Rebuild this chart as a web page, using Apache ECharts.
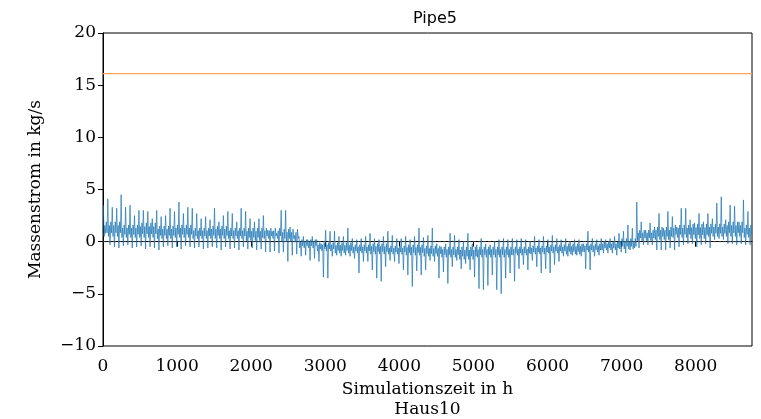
<!DOCTYPE html>
<html>
<head>
<meta charset="utf-8">
<script src="https://cdn.jsdelivr.net/npm/echarts@6/dist/echarts.min.js"></script>
<style>
    html, body { margin: 0; padding: 0; background: #fff; }
    #chart { width: 761px; height: 419px; }
</style>
</head>
<body>
<div id="chart"></div>
<script>
'use strict';

// Spitzen pro 60-h-Abschnitt
var binHours = 60;
var peakHigh = [
    3.5, 4.1, 3.3, 3.2, 4.5, 3.3, 3.5, 2.5, 3.0, 3.0, 2.9, 2.2, 3.0, 2.4, 2.5, 3.2, 2.9, 3.8, 2.7, 3.3, 3.2, 2.7, 2.2, 2.4, 2.1,
    3.2, 1.9, 2.5, 2.9, 2.7, 1.9, 3.2, 2.9, 2.2, 1.9, 2.2, 2.5, 1.1, 1.0, 0.8, 3.0, 3.0, 1.4, 0.6, 0.5, 0.5, 0.2, 0.5, 0.2, -0.2,
    1.1, 1.0, 1.0, 0.5, 0.5, 1.3, 0.3, 0.2, 0.3, 0.5, 0.8, 0.3, 0.2, 0.5, 1.0, 0.6, 0.3, 0.3, 0.5, 0.2, 0.5, 1.3, 0.4, 0.6,
    1.3, -0.2, -0.5, -0.2, 0.8, 0.6, 0.2, 0.0, 0.8, -0.2, -0.3, 0.3, -0.2, -0.3, 0.0, 0.2, 0.3, 0.2, 0.3, 0.2, 0.3, 0.2, 0.0, 0.5, 0.2,
    0.5, 0.2, 0.6, 0.3, 0.2, 0.3, 0.0, 0.2, 0.2, -0.2, 1.0, 0.3, 0.2, 0.3, 0.2, 0.3, 0.5, 0.8, 1.0, 1.6, 1.3, 3.8, 1.9, 1.1,
    1.8, 1.4, 2.7, 1.3, 2.9, 2.4, 1.4, 3.2, 3.2, 2.1, 1.8, 2.7, 1.9, 2.7, 2.2, 3.7, 4.3, 2.1, 3.5, 3.4, 1.9, 4.0, 2.9
];
var peakLow = [
    0.8, -0.3, -0.5, -0.6, -0.4, -0.3, -0.6, -0.5, -0.4, -0.7, -0.5, -0.6, -0.8, -0.5, -0.4, -0.6, -0.5, -0.7, -0.4, -0.5, -0.6, -0.5, -0.7, -0.6, -0.5,
    -0.6, -0.8, -0.5, -0.7, -0.6, -0.8, -0.5, -0.7, -0.6, -0.8, -0.7, -1.0, -1.0, -0.9, -1.1, -1.0, -1.9, -1.3, -1.2, -1.4, -1.3, -1.8, -1.6, -1.9, -3.4,
    -3.5, -1.4, -1.3, -1.4, -1.3, -1.4, -1.6, -3.0, -1.9, -1.9, -2.7, -3.5, -3.8, -2.4, -1.8, -1.9, -2.1, -2.7, -3.2, -4.3, -2.8, -3.2, -2.7, -1.8,
    -1.9, -3.5, -2.9, -4.0, -2.4, -1.8, -2.6, -2.1, -2.7, -3.4, -4.5, -4.6, -4.2, -3.2, -4.6, -5.0, -3.5, -3.0, -3.8, -2.6, -2.2, -2.7, -1.8, -2.4, -3.0,
    -2.6, -3.0, -2.2, -1.9, -1.4, -1.4, -1.3, -1.3, -1.4, -2.6, -2.7, -1.4, -1.3, -1.1, -1.1, -1.1, -1.3, -1.0, -1.1, -0.8, -0.6, -0.6, -0.3, -0.3,
    -0.3, -0.8, -0.8, -0.8, -0.6, -0.8, -0.5, -0.3, -0.2, -0.2, -0.5, -0.3, -0.2, -0.6, 0.2, 0.3, 0.2, -0.2, -0.2, -0.3, -0.2, -0.3, -0.3
];
// Kernband pro 240-h-Abschnitt: Mitte und halbe Breite
var coreHours = 240;
var coreLevel = [
    1.2, 1.0, 1.1, 0.9, 1.0, 0.8,
    0.9, 0.8, 0.7, 0.8, 0.6,
    -0.2, -0.5, -0.6, -0.7, -0.7, -0.8, -0.8,
    -0.9, -1.0, -1.1, -1.0, -1.0, -0.9,
    -0.8, -0.7, -0.7, -0.6, -0.4, -0.2,
    0.6, 0.8, 1.0, 1.0, 1.1, 1.2, 1.0
];
var coreSpread = [
    0.7, 0.6, 0.7, 0.6, 0.6, 0.5,
    0.6, 0.5, 0.6, 0.5, 0.6,
    0.4, 0.4, 0.5, 0.4, 0.5, 0.4, 0.5,
    0.5, 0.5, 0.6, 0.5, 0.5, 0.4,
    0.4, 0.4, 0.5, 0.4, 0.4, 0.5,
    0.5, 0.6, 0.6, 0.7, 0.6, 0.7, 0.6
];
var maxFlow = 16.1;
var simEnd = 8760;

var flowData = [];
for (var i = 0; i < peakHigh.length; i++) {
    var t0 = i * binHours;
    var k = Math.floor(t0 / coreHours);
    var c = coreLevel[k], w = coreSpread[k];
    // Spitze, Kernband, Senke, Kernband
    flowData.push([t0 + 5, peakHigh[i]]);
    flowData.push([t0 + 15, c - w]);
    flowData.push([t0 + 25, c + w * 0.5]);
    flowData.push([t0 + 35, peakLow[i]]);
    flowData.push([t0 + 45, c + w]);
    flowData.push([t0 + 55, c - w * 0.5]);
}

function tickText(v) {
    return String(v).replace('-', '\u2212');
}

var serif = 'DejaVu Serif';
var myChart = echarts.init(document.getElementById('chart'), null, { renderer: 'canvas' });
var option = {
    backgroundColor: '#fff',
    animation: false,
    title: {
        text: 'Pipe5',
        left: 430,
        top: 6,
        textAlign: 'center',
        textStyle: { fontFamily: 'DejaVu Sans', fontSize: 16, fontWeight: 'normal', color: '#000' }
    },
    grid: {
        left: 103, right: 9, top: 33, bottom: 73,
        outerBoundsMode: 'none',
        containLabel: false,
        show: true, borderColor: '#000', borderWidth: 1, backgroundColor: 'transparent'
    },
    xAxis: {
        type: 'value',
        min: 0, max: simEnd, interval: 1000,
        name: 'Simulationszeit in h\nHaus10',
        nameLocation: 'middle',
        nameGap: 31,
        nameTextStyle: { fontFamily: serif, fontSize: 17, color: '#000', lineHeight: 20, verticalAlign: 'top' },
        axisLine: { lineStyle: { color: '#000', width: 1 } },
        axisTick: { length: 5, lineStyle: { color: '#000' } },
        axisLabel: { fontFamily: serif, fontSize: 17, color: '#000', margin: 12, showMaxLabel: false, formatter: tickText },
        splitLine: { show: false }
    },
    yAxis: {
        type: 'value',
        min: -10, max: 20, interval: 5,
        name: 'Massenstrom in kg/s',
        nameLocation: 'middle',
        nameGap: 59,
        nameTextStyle: { fontFamily: serif, fontSize: 17, color: '#000' },
        axisLine: { show: true, lineStyle: { color: '#000', width: 1 } },
        axisTick: { show: true, length: 5, lineStyle: { color: '#000' } },
        axisLabel: { fontFamily: serif, fontSize: 17, color: '#000', margin: 7, formatter: tickText },
        splitLine: { show: false }
    },
    series: [
        {
            name: 'Haus10',
            type: 'line',
            data: flowData,
            showSymbol: false,
            lineStyle: { color: '#1f77b4', width: 0.9, opacity: 0.8 },
            z: 2
        },
        {
            name: 'Max',
            type: 'line',
            data: [[0, maxFlow], [simEnd, maxFlow]],
            showSymbol: false,
            lineStyle: { color: '#ffa35a', width: 1.3 },
            z: 2
        },
        {
            name: 'Null',
            type: 'line',
            data: [[0, 0], [simEnd, 0]],
            showSymbol: false,
            lineStyle: { color: '#555', width: 0.8, type: [3, 2] },
            z: 3
        }
    ]
};
myChart.setOption(option);
</script>
</body>
</html>
